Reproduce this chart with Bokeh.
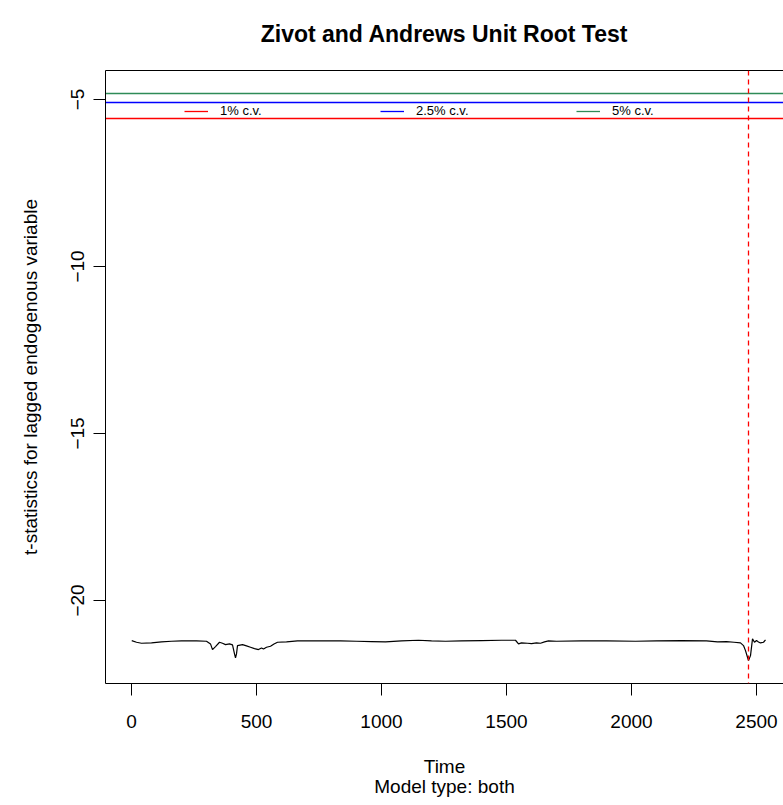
from bokeh.plotting import figure
from bokeh.models import Legend, LegendItem, FixedTicker, LinearAxis, Range1d, Span
from bokeh.embed import file_html
from bokeh.resources import INLINE

# ---- data ----
time_points = [1, 20, 40, 80, 120, 160, 200, 260, 300, 316, 324, 336, 352, 364, 376, 392, 404,
               412, 416, 420, 424, 444, 460, 476, 492, 508, 520, 528, 540, 556, 570, 584, 620,
               664, 750, 836, 900, 960, 1016, 1080, 1148, 1200, 1256, 1320, 1400, 1480, 1536,
               1548, 1560, 1584, 1600, 1620, 1636, 1652, 1668, 1700, 1800, 1900, 2016, 2100,
               2200, 2300, 2344, 2380, 2410, 2436, 2448, 2456, 2464, 2468, 2476, 2484, 2492,
               2500, 2508, 2516, 2528, 2536]
t_stats = [-21.20, -21.25, -21.28, -21.27, -21.24, -21.22, -21.21, -21.21, -21.22, -21.30,
           -21.47, -21.38, -21.25, -21.28, -21.32, -21.30, -21.33, -21.60, -21.72, -21.60,
           -21.35, -21.32, -21.36, -21.40, -21.44, -21.47, -21.42, -21.45, -21.40, -21.37,
           -21.30, -21.25, -21.24, -21.21, -21.21, -21.21, -21.22, -21.23, -21.24, -21.21,
           -21.19, -21.21, -21.22, -21.21, -21.20, -21.19, -21.19, -21.30, -21.27, -21.28,
           -21.29, -21.27, -21.28, -21.24, -21.21, -21.22, -21.21, -21.21, -21.22, -21.21,
           -21.20, -21.21, -21.24, -21.23, -21.25, -21.27, -21.35, -21.50, -21.70, -21.80,
           -21.65, -21.15, -21.25, -21.20, -21.24, -21.27, -21.25, -21.18]
cv_labels = ["1% c.v.", "2.5% c.v.", "5% c.v."]
cv_values = [-5.57, -5.08, -4.82]
cv_colors = ["#FF0000", "#0000FF", "#2E8B57"]
break_point = 2468
x_ticks = [0, 500, 1000, 1500, 2000, 2500]
y_ticks = [-20, -15, -10, -5]
main_title = "Zivot and Andrews Unit Root Test"

FONT = "Liberation Sans"

p = figure(width=783, height=805, output_backend="svg", toolbar_location=None, title=None,
           x_range=Range1d(-104, 2608), y_range=Range1d(-22.485, -4.132),
           min_border_left=105, min_border_right=0, min_border_top=70, min_border_bottom=122)
p.grid.visible = False
p.outline_line_color = None
p.background_fill_color = "white"
p.border_fill_color = "white"

for ax in (p.xaxis[0], p.yaxis[0]):
    ax.axis_line_color = "black"
    ax.axis_line_width = 1
    ax.major_tick_line_color = "black"
    ax.major_tick_out = 12
    ax.major_tick_in = 0
    ax.minor_tick_line_color = None
    ax.major_label_text_font = FONT
    ax.major_label_text_font_size = "19px"
    ax.major_label_text_color = "black"
    ax.axis_label_text_font = FONT
    ax.axis_label_text_font_size = "19px"
    ax.axis_label_text_font_style = "normal"
    ax.axis_label_text_color = "black"

p.xaxis[0].ticker = FixedTicker(ticks=x_ticks)
p.yaxis[0].ticker = FixedTicker(ticks=y_ticks)
p.xaxis[0].axis_label = "Time\nModel type: both"
p.xaxis[0].major_label_standoff = 19
p.xaxis[0].axis_label_standoff = 25
p.xaxis[0].axis_label_text_line_height = 0.98
p.yaxis[0].axis_label = "t-statistics for lagged endogenous variable"
p.yaxis[0].major_label_orientation = "vertical"
p.yaxis[0].major_label_standoff = 9
p.yaxis[0].axis_label_standoff = 28

# top border of the box, carrying the main title as its label
top_axis = LinearAxis(ticker=FixedTicker(ticks=[]), axis_line_color="black",
                      major_tick_line_color=None, minor_tick_line_color=None,
                      major_label_text_font_size="0px", major_label_standoff=0,
                      major_tick_out=0, major_tick_in=0,
                      axis_label=main_title, axis_label_standoff=24,
                      axis_label_text_font=FONT, axis_label_text_font_size="23px",
                      axis_label_text_font_style="bold", axis_label_text_color="black")
p.add_layout(top_axis, "above")

# data line
p.line(time_points, t_stats, line_color="black", line_width=1.2)

# critical values
items = []
for lab, v, c in zip(cv_labels, cv_values, cv_colors):
    r = p.hspan(y=[v], line_color=c, line_width=1.3)
    items.append(LegendItem(label=lab, renderers=[r]))

p.add_layout(Span(location=break_point, dimension="height", line_color="#FF0000",
                  line_dash="5 4", line_width=1.3))

legend = Legend(items=items, orientation="horizontal", location=(79, 565),
                glyph_width=24, glyph_height=12, label_standoff=12, label_width=160,
                spacing=0, padding=0, margin=0, border_line_color=None,
                background_fill_alpha=0, label_text_font=FONT, label_text_font_size="13px",
                label_text_color="black", label_height=12)
p.add_layout(legend, "center")

open("out.html", "w").write(file_html(p, INLINE))
